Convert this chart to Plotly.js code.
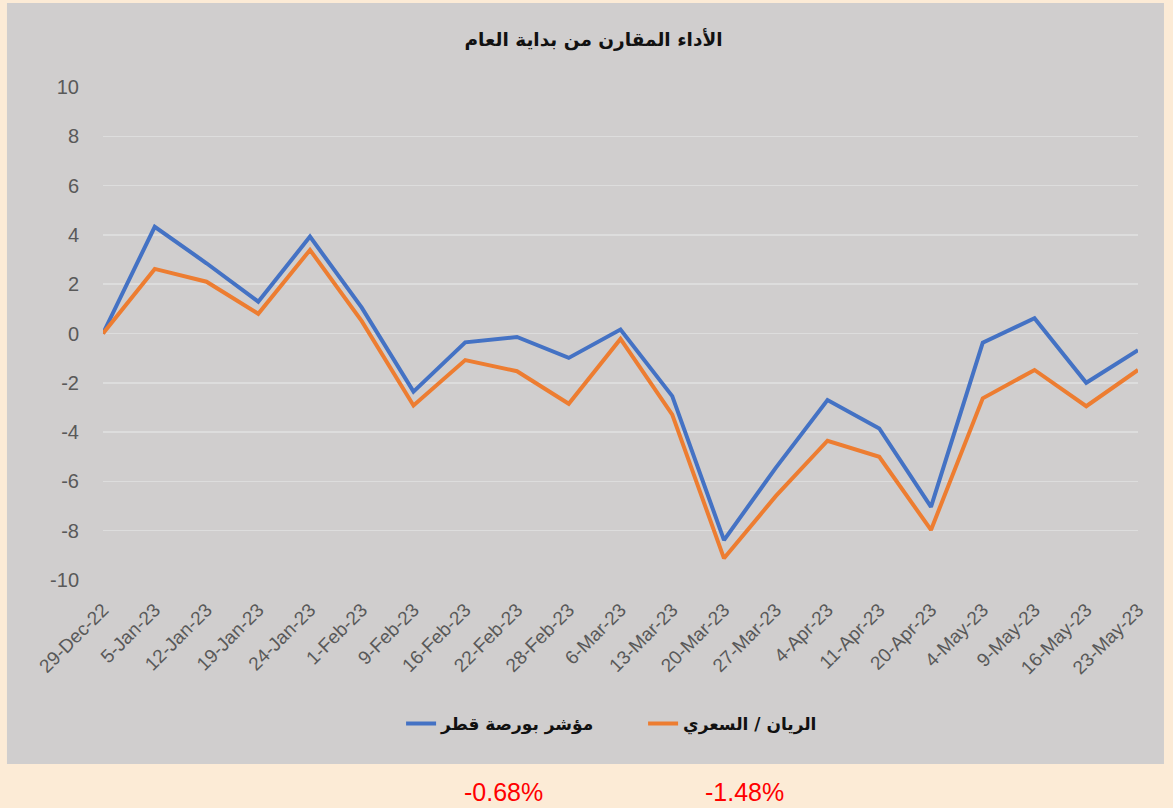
<!DOCTYPE html>
<html>
<head>
<meta charset="utf-8">
<script src="https://cdn.plot.ly/plotly-3.0.1.min.js"></script>
<style>
  html, body { margin: 0; padding: 0; background: #fcebd6; }
  #chart { width: 1173px; height: 808px; }
</style>
</head>
<body>
<div id="chart"></div>
<script>
// ---- data ----
const dates = ["29-Dec-22","5-Jan-23","12-Jan-23","19-Jan-23","24-Jan-23","1-Feb-23","9-Feb-23",
  "16-Feb-23","22-Feb-23","28-Feb-23","6-Mar-23","13-Mar-23","20-Mar-23","27-Mar-23",
  "4-Apr-23","11-Apr-23","20-Apr-23","4-May-23","9-May-23","16-May-23","23-May-23"];
const qseIndex = [0, 4.33, 2.85, 1.29, 3.93, 1.05, -2.36, -0.36, -0.14, -0.99, 0.16, -2.54,
  -8.38, -5.45, -2.70, -3.85, -7.03, -0.37, 0.62, -2.00, -0.68];
const rayanSaeri = [0, 2.62, 2.10, 0.80, 3.39, 0.50, -2.92, -1.08, -1.53, -2.85, -0.22, -3.29,
  -9.12, -6.60, -4.35, -5.00, -7.97, -2.63, -1.48, -2.95, -1.48];
const seriesNames = ["مؤشر بورصة قطر", "الريان / السعري"];
const chartTitle = "الأداء المقارن من بداية العام";
const endLabels = ["-0.68%", "-1.48%"];
const yTicks = [-10, -8, -6, -4, -2, 0, 2, 4, 6, 8, 10];
const yTickText = ["-10", "-8", "-6", "-4", "-2", "0", "2", "4", "6", "8", "10"];

const arabicFont = "DejaVu Sans, Noto Sans, sans-serif";
const latinFont = "Liberation Sans, Arial, sans-serif";

const traces = [
  { x: dates, y: qseIndex, name: seriesNames[0], type: "scatter", mode: "lines",
    line: { color: "#4472c4", width: 4 } },
  { x: dates, y: rayanSaeri, name: seriesNames[1], type: "scatter", mode: "lines",
    line: { color: "#ed7d31", width: 4 } }
];

const layout = {
  width: 1173, height: 808,
  paper_bgcolor: "#fcebd6",
  plot_bgcolor: "rgba(0,0,0,0)",
  margin: { l: 103, r: 35, t: 87, b: 228, pad: 0 },
  title: { text: chartTitle, font: { family: arabicFont, size: 18.5, color: "#111111", weight: "bold" },
    x: 0.506, xref: "container", y: 0.951, yref: "container", xanchor: "center", yanchor: "middle" },
  xaxis: {
    type: "category", tickangle: -45, showgrid: false, zeroline: false, showline: false,
    ticks: "", ticklabelstandoff: 14, range: [0, dates.length - 1],
    tickfont: { family: latinFont, size: 19, color: "#595959" }
  },
  yaxis: {
    range: [-10, 10], tickvals: yTicks, ticktext: yTickText, showgrid: true, gridcolor: "#dddddd", gridwidth: 1.5,
    zeroline: false, showline: false, ticks: "", ticklabelstandoff: 23,
    tickfont: { family: latinFont, size: 20, color: "#595959" }
  },
  showlegend: true,
  legend: { orientation: "h", x: 0.288, xanchor: "left", y: -0.292, yanchor: "middle",
    bgcolor: "rgba(0,0,0,0)", entrywidth: 197, entrywidthmode: "pixels",
    font: { family: arabicFont, size: 17, color: "#111111", weight: "bold" } },
  shapes: [
    { type: "rect", xref: "paper", yref: "paper", layer: "below",
      x0: -0.0928, x1: 1.0251, y0: -0.3732, y1: 1.1704,
      fillcolor: "#d0cece", line: { width: 0 } }
  ],
  annotations: [
    { text: endLabels[0], xref: "paper", yref: "paper", x: 0.3865, y: -0.43, showarrow: false,
      xanchor: "center", yanchor: "middle", font: { family: latinFont, size: 25, color: "#ff0000" } },
    { text: endLabels[1], xref: "paper", yref: "paper", x: 0.620, y: -0.43, showarrow: false,
      xanchor: "center", yanchor: "middle", font: { family: latinFont, size: 25, color: "#ff0000" } }
  ]
};

Plotly.newPlot("chart", traces, layout, { displayModeBar: false, staticPlot: true });
</script>
</body>
</html>
